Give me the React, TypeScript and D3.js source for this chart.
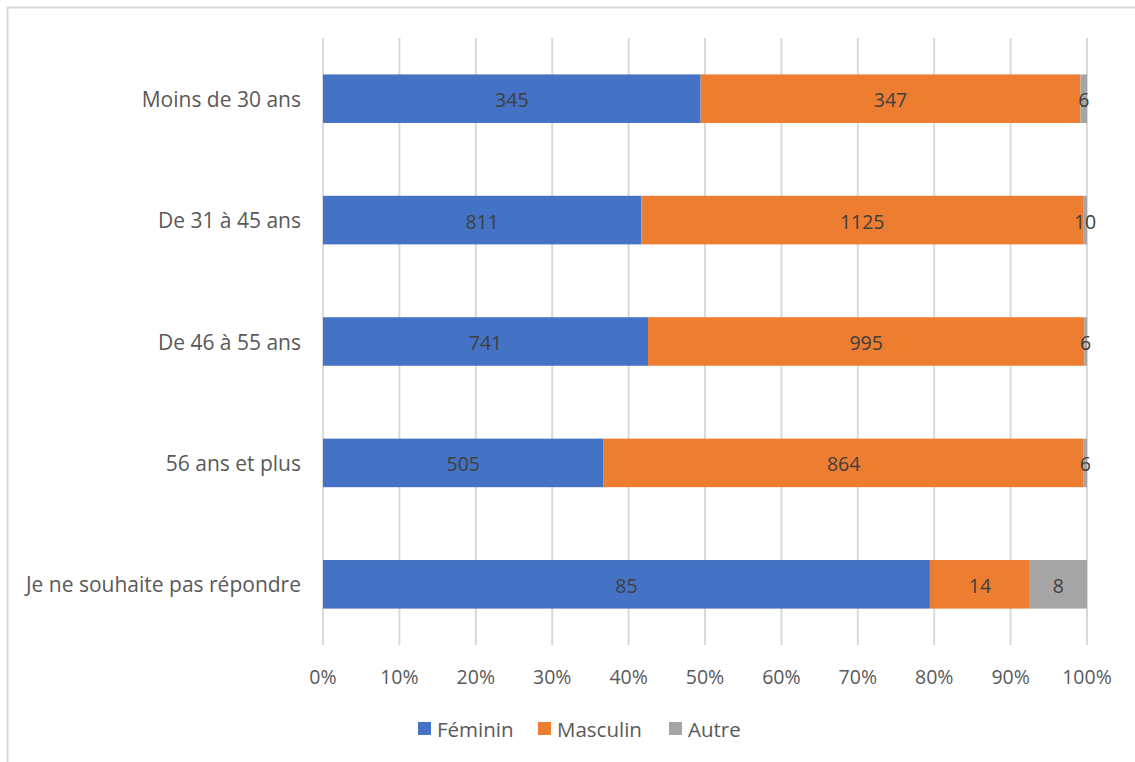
import React from "react";
import * as d3 from "d3";

const categories = ["Moins de 30 ans", "De 31 à 45 ans", "De 46 à 55 ans", "56 ans et plus", "Je ne souhaite pas répondre"];
const feminin = [345, 811, 741, 505, 85];
const masculin = [347, 1125, 995, 864, 14];
const autre = [6, 10, 6, 6, 8];
const seriesNames = ["Féminin", "Masculin", "Autre"];
const seriesColors = ["#4472C4", "#ED7D31", "#A5A5A5"];
const tickValues = [0, 0.1, 0.2, 0.3, 0.4, 0.5, 0.6, 0.7, 0.8, 0.9, 1];

const W = 1135, H = 762;
const FONT = "'Open Sans', sans-serif";

export default function App() {
  const x = d3.scaleLinear().domain([0, 1]).range([323, 1087]);
  const y = d3.scaleBand().domain(categories).range([38, 645]).paddingInner(0.6).paddingOuter(0.3);
  const rows = categories.map((c, i) => ({ cat: c, Féminin: feminin[i], Masculin: masculin[i], Autre: autre[i] }));
  const stack = d3.stack<any>().keys(seriesNames).offset(d3.stackOffsetExpand);
  const stacked = stack(rows);
  const legendX = [418, 538, 669];

  return (
    <svg width={W} height={H} style={{ position: "absolute", left: 0, top: 0 }} fontFamily={FONT}>
      <rect x={0} y={0} width={W} height={H} fill="#fff" />
      <path d={`M7.5,${H} V7.5 H${W}`} fill="none" stroke="#D9D9D9" strokeWidth={2} />
      {tickValues.map((t) => (
        <line key={t} x1={x(t)} x2={x(t)} y1={38} y2={645} stroke="#D9D9D9" strokeWidth={2} />
      ))}
      {stacked.map((s, si) => (
        <g key={s.key}>
          {s.map((d: any, i: number) => {
            const x0 = x(d[0]), x1 = x(d[1]);
            const yy = y(categories[i])!;
            const bw = y.bandwidth();
            const val = (rows[i] as any)[s.key];
            return (
              <g key={i}>
                <rect x={x0} y={yy} width={x1 - x0} height={bw} fill={seriesColors[si]} />
                <text x={(x0 + x1) / 2} y={yy + bw / 2 + 1} textAnchor="middle" dominantBaseline="central" fontSize={19.5} fill="#404040">{val}</text>
              </g>
            );
          })}
        </g>
      ))}
      {categories.map((c) => (
        <text key={c} x={301} y={y(c)! + y.bandwidth() / 2} textAnchor="end" dominantBaseline="central" fontSize={21} fill="#595959">{c}</text>
      ))}
      {tickValues.map((t) => (
        <text key={t} x={x(t)} y={676} textAnchor="middle" dominantBaseline="central" fontSize={19.5} fill="#595959">{d3.format(".0%")(t)}</text>
      ))}
      {seriesNames.map((n, i) => (
        <g key={n}>
          <rect x={legendX[i]} y={722} width={13} height={13} fill={seriesColors[i]} />
          <text x={legendX[i] + 19} y={729} dominantBaseline="central" fontSize={20.5} fill="#595959">{n}</text>
        </g>
      ))}
    </svg>
  );
}
